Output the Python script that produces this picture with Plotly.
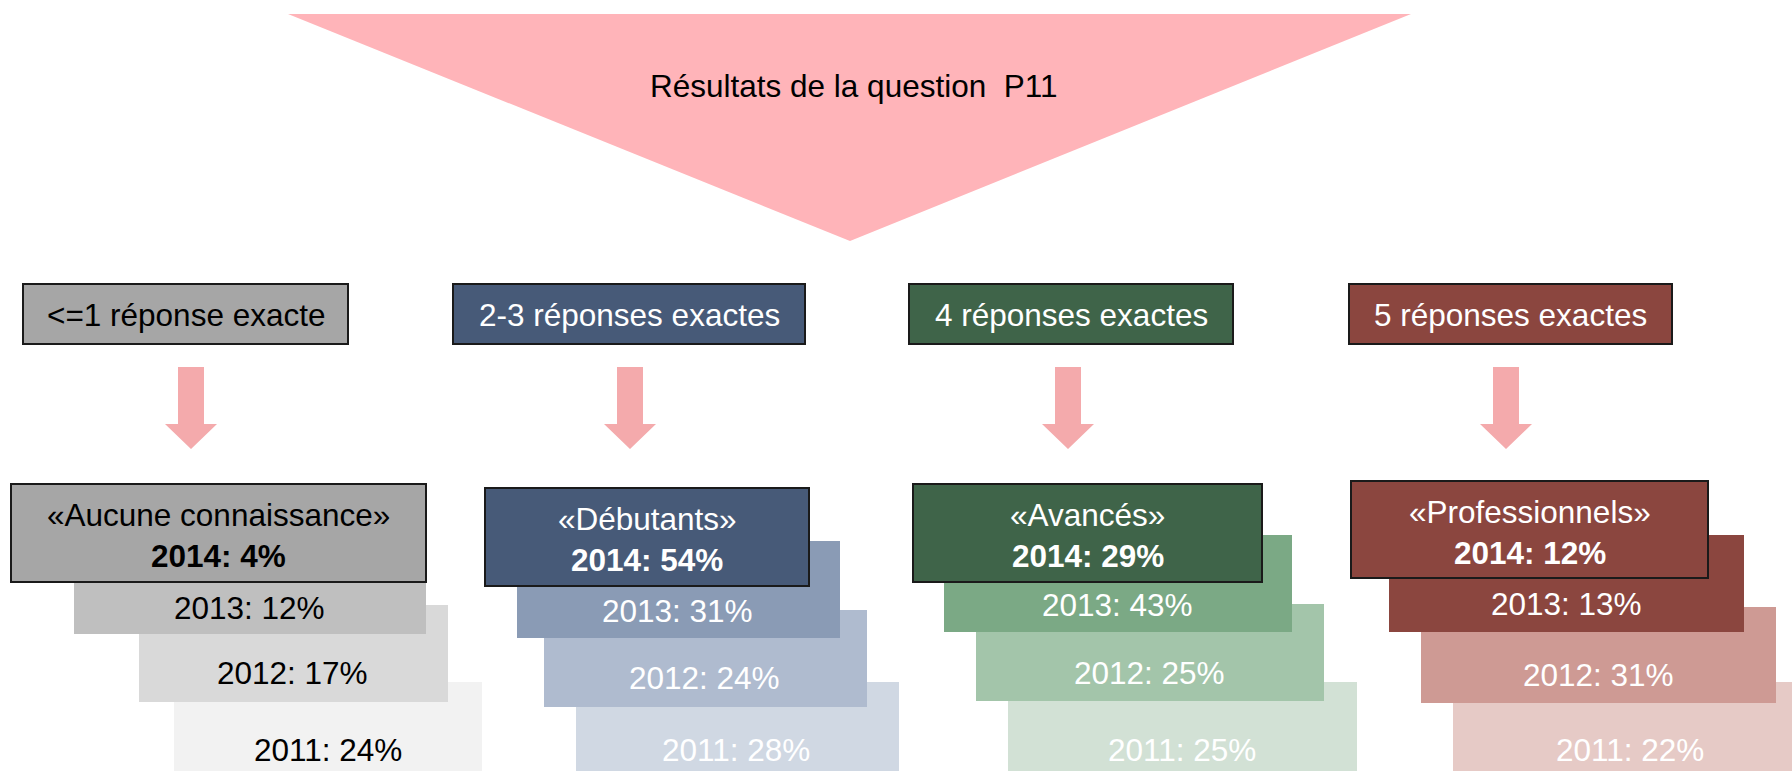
import plotly.graph_objects as go

# ---------------- data ----------------
title_text = "Résultats de la question  P11"
categories = ["<=1 réponse exacte", "2-3 réponses exactes", "4 réponses exactes", "5 réponses exactes"]
groups = ["«Aucune connaissance»", "«Débutants»", "«Avancés»", "«Professionnels»"]
years = ["2014", "2013", "2012", "2011"]
pct_2014 = [4, 54, 29, 12]
pct_2013 = [12, 31, 43, 13]
pct_2012 = [17, 24, 25, 31]
pct_2011 = [24, 28, 25, 22]

# ---------------- styles ----------------
main_colors = ["#A6A6A6", "#475A78", "#3F6449", "#8B463F"]
c2013 = ["#BFBFBF", "#8A9BB5", "#7BA985", "#8B463F"]
c2012 = ["#D9D9D9", "#AFBBCF", "#A3C5AA", "#CE9A94"]
c2011 = ["#F2F2F2", "#D0D8E3", "#D2E1D5", "#E6CAC6"]
text_colors = ["#000000", "#FFFFFF", "#FFFFFF", "#FFFFFF"]
tri_color = "#FFB4B9"
arrow_color = "#F4AAAC"
FONT = "Liberation Sans, Arial, sans-serif"
FS = 31.5

# ---------------- geometry (pixels) ----------------
W, H = 1792, 771
top_box_x = [(23, 348), (453, 805), (909, 1233), (1349, 1672)]
top_box_y = (284, 344)
arrow_cx = [191, 630, 1068, 1506]
main_box = [(11, 426, 484, 582), (485, 809, 488, 586), (913, 1262, 484, 582), (1351, 1708, 481, 578)]
box_2013 = [(74, 426, 537, 634), (517, 840, 541, 638), (944, 1292, 535, 632), (1389, 1744, 535, 632)]
box_2012 = [(139, 448, 605, 702), (544, 867, 610, 707), (976, 1324, 604, 701), (1421, 1776, 607, 703)]
box_2011 = [(174, 482, 682, 790), (576, 899, 682, 790), (1008, 1357, 682, 790), (1453, 1800, 682, 790)]
txt_2013 = [(249, 608), (677, 611), (1117, 605), (1566, 604)]
txt_2012 = [(292, 673), (704, 678), (1149, 673), (1598, 675)]
txt_2011 = [(328, 750), (736, 750), (1182, 750), (1630, 750)]

fig = go.Figure()
shapes = []
annotations = []

# big triangle
shapes.append(dict(type="path", path="M 288,14 L 1411,14 L 850,241 Z",
                   fillcolor=tri_color, line=dict(width=0), layer="above"))
annotations.append(dict(x=853, y=86, text=title_text, showarrow=False,
                        xanchor="center", yanchor="middle",
                        font=dict(family=FONT, size=FS, color="#000000")))


def rect(x0, x1, y0, y1, color, border=False):
    return dict(type="rect", x0=x0, x1=x1, y0=y0, y1=y1, fillcolor=color,
                line=dict(color="#1A1A1A", width=2) if border else dict(width=0),
                layer="above")


for i in range(len(categories)):
    # top label box
    x0, x1 = top_box_x[i]
    shapes.append(rect(x0, x1, top_box_y[0], top_box_y[1], main_colors[i], True))
    annotations.append(dict(x=(x0 + x1) / 2, y=(top_box_y[0] + top_box_y[1]) / 2 + 1,
                            text=categories[i], showarrow=False, xanchor="center", yanchor="middle",
                            font=dict(family=FONT, size=FS, color=text_colors[i])))
    # arrow
    cx = arrow_cx[i]
    p = (f"M {cx-13},367 L {cx+13},367 L {cx+13},424 L {cx+26},424 L {cx},449 "
         f"L {cx-26},424 L {cx-13},424 Z")
    shapes.append(dict(type="path", path=p, fillcolor=arrow_color, line=dict(width=0), layer="above"))

    # stacked year boxes (back to front)
    b = box_2011[i]
    shapes.append(rect(b[0], b[1], b[2], b[3], c2011[i]))
    b = box_2012[i]
    shapes.append(rect(b[0], b[1], b[2], b[3], c2012[i]))
    b = box_2013[i]
    shapes.append(rect(b[0], b[1], b[2], b[3], c2013[i]))
    b = main_box[i]
    shapes.append(rect(b[0], b[1], b[2], b[3], main_colors[i], True))

    for txt, val, yr in ((txt_2013, pct_2013, years[1]), (txt_2012, pct_2012, years[2]),
                         (txt_2011, pct_2011, years[3])):
        annotations.append(dict(x=txt[i][0], y=txt[i][1], text=f"{yr}: {val[i]}%", showarrow=False,
                                xanchor="center", yanchor="middle",
                                font=dict(family=FONT, size=FS, color=text_colors[i])))
    b = main_box[i]
    cxm = (b[0] + b[1]) / 2
    annotations.append(dict(x=cxm, y=b[2] + 31, text=groups[i], showarrow=False,
                            xanchor="center", yanchor="middle",
                            font=dict(family=FONT, size=FS, color=text_colors[i])))
    annotations.append(dict(x=cxm, y=b[2] + 72, text=f"<b>{years[0]}: {pct_2014[i]}%</b>", showarrow=False,
                            xanchor="center", yanchor="middle",
                            font=dict(family=FONT, size=FS, color=text_colors[i])))

fig.update_layout(
    width=W, height=H,
    margin=dict(l=0, r=0, t=0, b=0),
    paper_bgcolor="white", plot_bgcolor="white",
    shapes=shapes, annotations=annotations,
    xaxis=dict(range=[0, W], visible=False, fixedrange=True),
    yaxis=dict(range=[H, 0], visible=False, fixedrange=True),
    showlegend=False,
)
fig.write_html("out.html", config={"displayModeBar": False},
               post_script="document.body.style.margin='0';document.body.style.overflow='hidden';")
